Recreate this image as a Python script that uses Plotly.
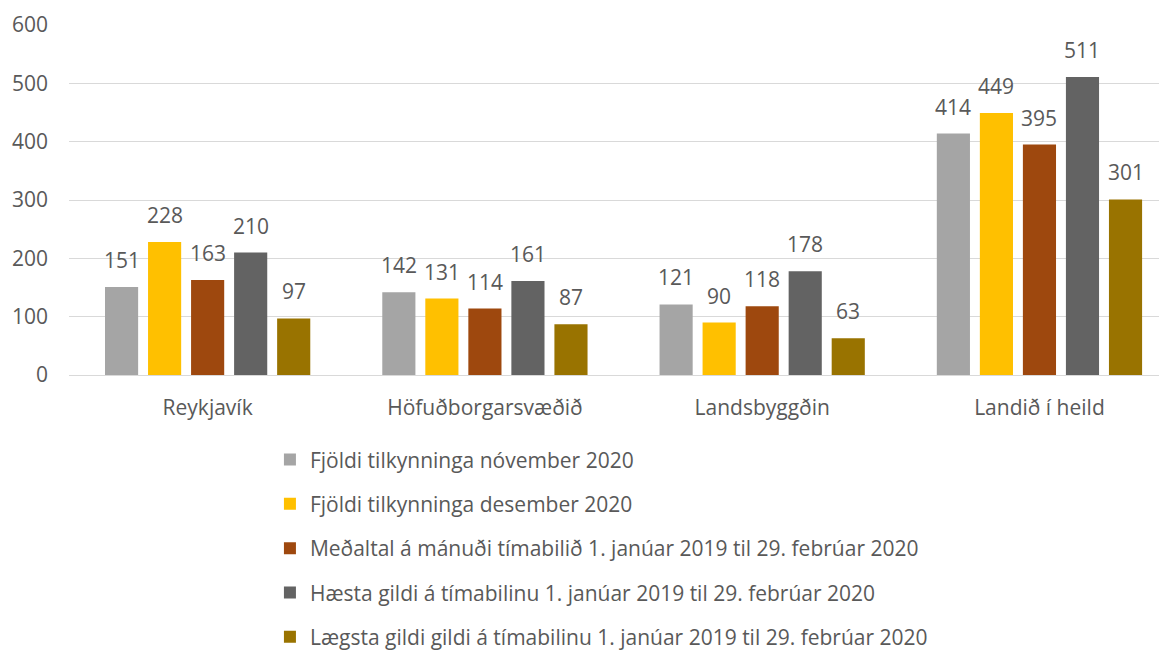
import plotly.graph_objects as go

categories = ["Reykjavík", "Höfuðborgarsvæðið", "Landsbyggðin", "Landið í heild"]
series_names = [
    "Fjöldi tilkynninga nóvember 2020",
    "Fjöldi tilkynninga desember 2020",
    "Meðaltal á mánuði tímabilið 1. janúar 2019 til 29. febrúar 2020",
    "Hæsta gildi á tímabilinu 1. janúar 2019 til 29. febrúar 2020",
    "Lægsta gildi gildi á tímabilinu 1. janúar 2019 til 29. febrúar 2020",
]
nov_2020 = [151, 142, 121, 414]
des_2020 = [228, 131, 90, 449]
medaltal = [163, 114, 118, 395]
haesta = [210, 161, 178, 511]
laegsta = [97, 87, 63, 301]
colors = ["#A5A5A5", "#FFC000", "#9E480E", "#636363", "#997300"]

values = [nov_2020, des_2020, medaltal, haesta, laegsta]
FONT = "Open Sans"
TXT = "#595959"
FS = 21
BARGAP = 0.224
n = len(values)
slot = (1 - BARGAP) / n

fig = go.Figure()
annotations = []
for j, (name, vals, col) in enumerate(zip(series_names, values, colors)):
    fig.add_trace(go.Bar(
        x=categories, y=vals, name=name,
        marker=dict(color=col, line=dict(width=0)),
        legendgroup=f"g{j}",
    ))
    for i, v in enumerate(vals):
        annotations.append(dict(
            x=i + (j - (n - 1) / 2) * slot, y=v, xref="x", yref="y",
            text=str(v), showarrow=False, yanchor="bottom", yshift=11,
            font=dict(family=FONT, size=FS, color=TXT),
        ))

fig.update_layout(
    width=1167, height=650,
    margin=dict(l=61, r=8, t=17, b=283, autoexpand=False),
    paper_bgcolor="white", plot_bgcolor="white",
    barmode="group", bargap=BARGAP, bargroupgap=0.23,
    font=dict(family=FONT, size=FS, color=TXT),
    showlegend=True,
    annotations=annotations,
    legend=dict(
        orientation="v", x=0.183, xanchor="left", y=-0.184, yanchor="top",
        font=dict(family=FONT, size=FS, color=TXT),
        tracegroupgap=14, itemwidth=30,
        bgcolor="rgba(0,0,0,0)",
    ),
    xaxis=dict(
        range=[-0.5, 3.46], showgrid=False, showline=False, ticks="",
        tickfont=dict(family=FONT, size=FS, color=TXT),
        ticklabelstandoff=18,
    ),
    yaxis=dict(
        range=[0, 600], dtick=100, showgrid=True, gridcolor="#D9D9D9", gridwidth=1,
        zeroline=True, zerolinecolor="#D9D9D9", zerolinewidth=1,
        showline=False, ticks="",
        tickfont=dict(family=FONT, size=FS, color=TXT),
        ticklabelstandoff=20,
    ),
)

fig.write_html("out.html")
